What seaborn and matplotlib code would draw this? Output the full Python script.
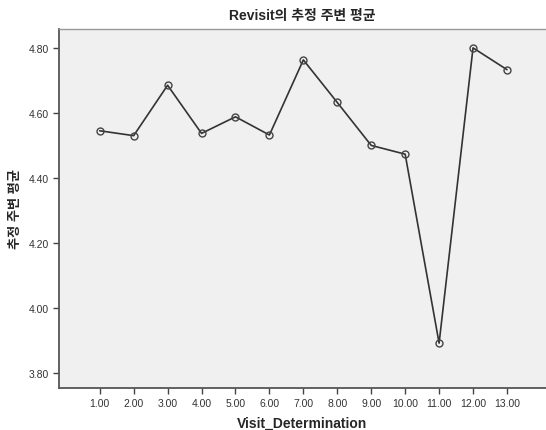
import numpy as np
import pandas as pd
import seaborn as sns
import matplotlib
matplotlib.use("Agg")
import matplotlib.pyplot as plt

visit = [1, 2, 3, 4, 5, 6, 7, 8, 9, 10, 11, 12, 13]
means = [4.545, 4.53, 4.685, 4.537, 4.588, 4.532, 4.763, 4.632, 4.50, 4.473, 3.892, 4.80, 4.733]
yticks = [3.80, 4.00, 4.20, 4.40, 4.60, 4.80]

df = pd.DataFrame({"Visit_Determination": visit, "mean": means})

sns.set_style("ticks")
plt.rcParams['font.family'] = ['Liberation Sans', 'Noto Sans CJK KR']

fig = plt.figure(figsize=(5.46, 4.31), dpi=100)
ax = fig.add_axes([59/546, 42/431, 1 - 59/546, (389 - 30)/431])
ax.set_facecolor('#f0f0f0')

sns.lineplot(data=df, x="Visit_Determination", y="mean", ax=ax,
             color='#333333', linewidth=1.2, marker='o', markersize=5,
             markerfacecolor='none', markeredgecolor='#444444', markeredgewidth=1.0)

ax.set_xlim(-0.2, 14.15)
ax.set_ylim(3.754, 4.858)
ax.set_xticks(visit)
ax.set_xticklabels(["%.2f" % v for v in visit], fontsize=7.5, color='#333333')
ax.set_yticks(yticks)
ax.set_yticklabels(["%.2f" % v for v in yticks], fontsize=7.5, color='#333333')
ax.tick_params(axis='both', length=4, width=1, color='#444444', pad=3)

for s in ['left', 'bottom']:
    ax.spines[s].set_color('#555555')
    ax.spines[s].set_linewidth(1.3)
ax.spines['top'].set_color('#999999')
ax.spines['top'].set_linewidth(1.0)
ax.spines['right'].set_visible(False)

ax.set_xlabel("Visit_Determination", fontsize=10, fontweight='bold', labelpad=6)
ax.set_ylabel("추정 주변 평균", fontsize=9.5, fontweight='bold')
ax.yaxis.set_label_coords(-0.077, 0.5)
ax.set_title("Revisit의 추정 주변 평균", fontsize=10, fontweight='bold', pad=7)

fig.savefig("out.png", dpi=100)
